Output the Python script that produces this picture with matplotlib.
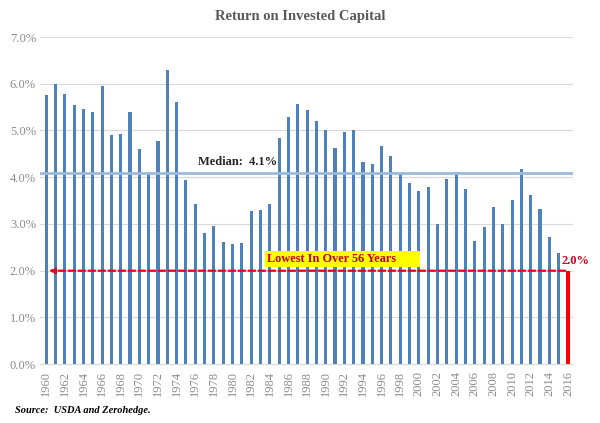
import matplotlib.pyplot as plt
import numpy as np

# data
years = list(range(1960, 2017))
roic = [5.75, 6.00, 5.78, 5.55, 5.47, 5.40, 5.95, 4.90, 4.93, 5.40,
        4.60, 4.06, 4.78, 6.30, 5.62, 3.95, 3.42, 2.80, 2.96, 2.62,
        2.57, 2.60, 3.27, 3.30, 3.42, 4.85, 5.28, 5.57, 5.44, 5.20,
        5.00, 4.63, 4.96, 5.02, 4.33, 4.29, 4.67, 4.45, 4.10, 3.88,
        3.71, 3.80, 3.01, 3.97, 4.12, 3.74, 2.64, 2.94, 3.37, 3.01,
        3.51, 4.17, 3.62, 3.31, 2.73, 2.37, 2.00]
median = 4.1
yticks = [0, 1, 2, 3, 4, 5, 6, 7]

serif = 'Liberation Serif'
blue = '#4f81bd'
gray = '#595959'

fig = plt.figure(figsize=(6, 4.23), dpi=100)
ax = fig.add_axes([0.067, 0.139, 0.888, 0.7735])

ax.bar(years[:-1], roic[:-1], width=0.33, color=blue, zorder=3)
ax.bar(years[-1], roic[-1], width=0.45, color='#ff0000', zorder=4)

ax.set_xlim(1959.36, 2016.54)
ax.set_ylim(0, 7)
ax.set_yticks(yticks)
ax.set_yticklabels(['%.1f%%' % v for v in yticks], family=serif, fontsize=9, color='#8c8c8c')
ax.set_xticks(years[::2])
ax.set_xticklabels([str(y) for y in years[::2]], rotation=90, family=serif, fontsize=9, color='#8c8c8c')
ax.grid(axis='y', color='#d9d9d9', linewidth=0.8, zorder=0)
ax.tick_params(axis='y', length=0, pad=3)
ax.tick_params(axis='x', length=0, pad=5)
for s in ['top', 'right', 'left']:
    ax.spines[s].set_visible(False)
ax.spines['bottom'].set_color('#d9d9d9')

# median line
ax.axhline(median, color='#9dbad9', linewidth=2, zorder=5)
ax.text(1976.3, median + 0.1, 'Median:  %.1f%%' % median, family=serif, fontweight='bold',
        fontsize=9, color='#262626', va='bottom', zorder=6)

# red dashed arrow at 2%
ax.annotate('', xy=(1960, 2.0), xytext=(2016, 2.0),
            arrowprops=dict(arrowstyle='-|>', color='#e3001b', linestyle=(0, (3, 1.5)),
                            linewidth=1.6, mutation_scale=8), zorder=6)
ax.text(1983.7, 2.25, 'Lowest In Over 56 Years       ', family=serif, fontweight='bold',
        fontsize=8.8, color='#c00000', va='center', zorder=7,
        bbox=dict(boxstyle='square,pad=0.2', facecolor='#ffff00', edgecolor='none'))
ax.text(2016.8, 2.2, '%.1f%%' % roic[-1], family=serif, fontweight='bold', fontsize=9,
        color='#d00020', ha='center', va='center', zorder=7, clip_on=False)

fig.text(0.5, 0.962, 'Return on Invested Capital', family=serif, fontweight='bold',
         fontsize=10.5, color=gray, ha='center', va='center')
fig.text(0.025, 0.03, 'Source:  USDA and Zerohedge.', family=serif, fontweight='bold',
         fontstyle='italic', fontsize=7.5, color='#000000', va='center')

fig.savefig('out.png', dpi=100)
